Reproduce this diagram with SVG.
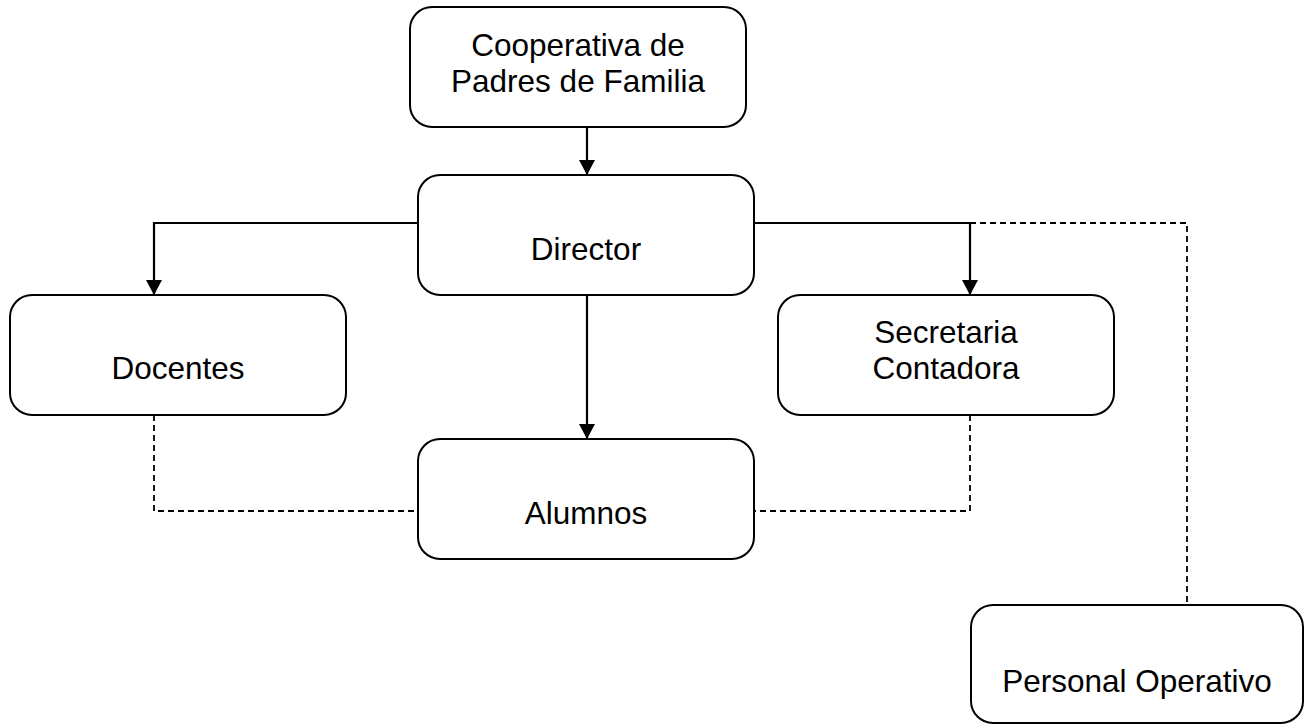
<svg xmlns="http://www.w3.org/2000/svg" width="1313" height="726" viewBox="0 0 1313 726">
<style>
.box{fill:#fff;stroke:#000;stroke-width:2}
.t{font-family:"Liberation Sans",Arial,sans-serif;font-size:31.5px;fill:#000;text-anchor:middle}
.s{fill:none;stroke:#000;stroke-width:2.2}
.d{fill:none;stroke:#000;stroke-width:1.8;stroke-dasharray:6,4}
</style>
<defs>
<marker id="ah" markerUnits="userSpaceOnUse" markerWidth="18" markerHeight="18" refX="15" refY="8" orient="auto">
<path d="M0,0 L15,8 L0,16 Z" fill="#000"/>
</marker>
</defs>
<rect width="1313" height="726" fill="#fff"/>
<g id="connectors">
<line class="s" x1="587" y1="127" x2="587" y2="175" marker-end="url(#ah)"/>
<polyline class="s" points="418,223 154,223 154,295" marker-end="url(#ah)"/>
<line class="s" x1="587" y1="295" x2="587" y2="439" marker-end="url(#ah)"/>
<polyline class="s" points="754,223 970,223 970,295" marker-end="url(#ah)"/>
<polyline class="d" points="970,223 1187,223 1187,605"/>
<polyline class="d" points="154,415 154,511 418,511"/>
<polyline class="d" points="970,415 970,511 754,511"/>
</g>
<g id="cooperativa">
<rect class="box" x="410" y="7" width="336" height="120" rx="22"/>
<text class="t" x="578" y="56">Cooperativa de</text>
<text class="t" x="578" y="92">Padres de Familia</text>
</g>
<g id="director">
<rect class="box" x="418" y="175" width="336" height="120" rx="22"/>
<text class="t" x="586" y="260">Director</text>
</g>
<g id="docentes">
<rect class="box" x="10" y="295" width="336" height="120" rx="22"/>
<text class="t" x="178" y="379">Docentes</text>
</g>
<g id="secretaria">
<rect class="box" x="778" y="295" width="336" height="120" rx="22"/>
<text class="t" x="946" y="343">Secretaria</text>
<text class="t" x="946" y="379">Contadora</text>
</g>
<g id="alumnos">
<rect class="box" x="418" y="439" width="336" height="120" rx="22"/>
<text class="t" x="586" y="524">Alumnos</text>
</g>
<g id="personal">
<rect class="box" x="971" y="605" width="332" height="118" rx="22"/>
<text class="t" x="1137" y="692">Personal Operativo</text>
</g>
</svg>
